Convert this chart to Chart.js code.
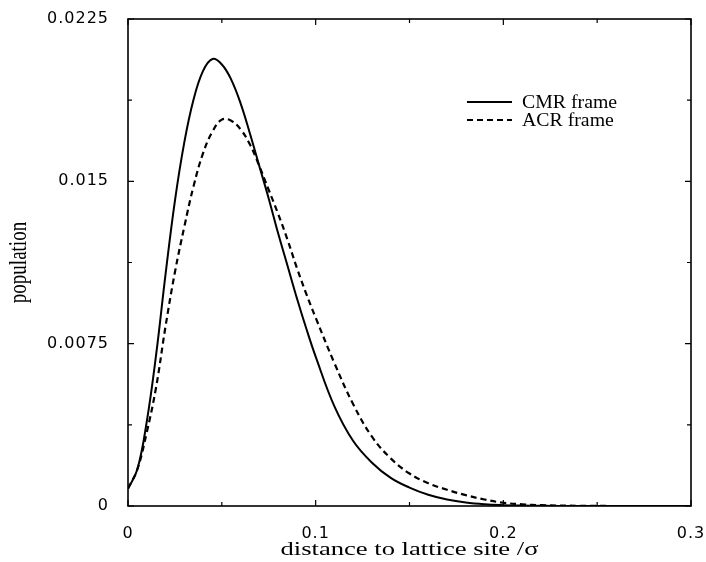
<!DOCTYPE html>
<html>
<head>
<meta charset="utf-8">
<script src="https://cdn.jsdelivr.net/npm/chart.js@4.4.0/dist/chart.umd.min.js"></script>
<style>
  html, body { margin: 0; padding: 0; background: #fff; }
</style>
</head>
<body>
<canvas id="populationChart" width="706" height="562"></canvas>
<script>
// distance to lattice site (in units of sigma)
const distances = [0, 0.005, 0.01, 0.015, 0.02, 0.025, 0.03, 0.035, 0.04, 0.045, 0.05, 0.055, 0.06,
  0.065, 0.07, 0.075, 0.08, 0.085, 0.09, 0.095, 0.1, 0.11, 0.12, 0.13, 0.14, 0.15, 0.16, 0.17,
  0.18, 0.19, 0.2, 0.21, 0.22, 0.24, 0.26, 0.28, 0.3];

// population
const cmrPopulation = [0.0008, 0.0017, 0.0039, 0.0070, 0.0107, 0.0141, 0.0168, 0.0188, 0.0201, 0.02065,
  0.0204, 0.0197, 0.0186, 0.0172, 0.0157, 0.0142, 0.0126, 0.0111, 0.0096, 0.0082, 0.0069, 0.0046,
  0.0030, 0.0020, 0.0013, 0.00085, 0.00052, 0.0003, 0.00016, 0.00008, 0.00004, 0.00002, 0.00001,
  0, 0, 0, 0];
const acrPopulation = [0.0008, 0.0017, 0.0034, 0.0055, 0.0083, 0.0108, 0.0129, 0.0148, 0.0163, 0.0173,
  0.01785, 0.0178, 0.0174, 0.0167, 0.0157, 0.0146, 0.0135, 0.0123, 0.0110, 0.0098, 0.0087, 0.0066,
  0.0047, 0.0032, 0.0022, 0.0015, 0.00105, 0.00075, 0.0005, 0.0003, 0.00015, 0.00008, 0.00004,
  0.00001, 0, 0, 0];

const seriesNames = ['CMR frame', 'ACR frame'];

// axis ticks (labels left empty on minor ticks)
const xTickValues = [0, 0.05, 0.1, 0.15, 0.2, 0.25, 0.3];
const xTickLabels = ['0', '', '0.1', '', '0.2', '', '0.3'];
const yTickValues = [0, 0.00375, 0.0075, 0.01125, 0.015, 0.01875, 0.0225];
const yTickLabels = ['0', '', '0.0075', '', '0.015', '', '0.0225'];

const xTitle = 'distance to lattice site /\u03c3';
const yTitle = 'population';

// draw text stretched horizontally like the scanned figure
const drawStretched = function (ctx, text, x, y, sx) {
  ctx.save();
  ctx.translate(x, y);
  ctx.scale(sx, 1);
  ctx.fillText(text, 0, 0);
  ctx.restore();
};

// frame, inward ticks, axis titles and legend
const framePlugin = {
  id: 'frame',
  beforeUpdate(chart) {
    chart.ctx.letterSpacing = '1px';
  },
  beforeDraw(chart) {
    chart.ctx.letterSpacing = '1px';
  },
  afterDraw(chart) {
    const { ctx, chartArea: a, scales: { x, y } } = chart;
    ctx.save();
    ctx.letterSpacing = '0px';
    ctx.strokeStyle = '#000';
    ctx.lineWidth = 1.6;
    ctx.strokeRect(a.left, a.top, a.right - a.left, a.bottom - a.top);

    ctx.lineWidth = 1.2;
    ctx.beginPath();
    x.ticks.forEach((t, i) => {
      const px = x.getPixelForValue(t.value);
      const len = xTickLabels[i] ? 6 : 4;
      ctx.moveTo(px, a.bottom);
      ctx.lineTo(px, a.bottom - len);
      ctx.moveTo(px, a.top);
      ctx.lineTo(px, a.top + len);
    });
    y.ticks.forEach((t, i) => {
      const py = y.getPixelForValue(t.value);
      const len = yTickLabels[i] ? 6 : 4;
      ctx.moveTo(a.left, py);
      ctx.lineTo(a.left + len, py);
      ctx.moveTo(a.right, py);
      ctx.lineTo(a.right - len, py);
    });
    ctx.stroke();

    // axis titles
    ctx.fillStyle = '#000';
    ctx.textBaseline = 'middle';
    ctx.textAlign = 'center';
    ctx.font = '19px "Liberation Serif", "Times New Roman", serif';
    drawStretched(ctx, xTitle, (a.left + a.right) / 2, 550, 1.4);
    ctx.save();
    ctx.translate(20, (a.top + a.bottom) / 2);
    ctx.rotate(-Math.PI / 2);
    ctx.scale(1, 1.3);
    ctx.fillText(yTitle, 0, 0);
    ctx.restore();

    // legend
    ctx.textAlign = 'left';
    ctx.font = '18px "Liberation Serif", "Times New Roman", serif';
    chart.data.datasets.forEach((ds, i) => {
      const ly = a.top + 83 + i * 18;
      ctx.save();
      ctx.strokeStyle = ds.borderColor;
      ctx.lineWidth = ds.borderWidth;
      ctx.setLineDash(ds.borderDash || []);
      ctx.beginPath();
      ctx.moveTo(a.left + 339, ly);
      ctx.lineTo(a.left + 384, ly);
      ctx.stroke();
      ctx.restore();
      drawStretched(ctx, ds.label, a.left + 394, ly + 1, 1.1);
    });
    ctx.restore();
  },
};

const tickFont = { family: '"DejaVu Sans", sans-serif', size: 16 };

new Chart(document.getElementById('populationChart'), {
  type: 'line',
  data: {
    datasets: [
      {
        label: seriesNames[0],
        data: distances.map((d, i) => ({ x: d, y: cmrPopulation[i] })),
        borderColor: '#000',
        borderWidth: 2,
        pointRadius: 0,
        tension: 0.4,
        fill: false,
      },
      {
        label: seriesNames[1],
        data: distances.map((d, i) => ({ x: d, y: acrPopulation[i] })),
        borderColor: '#000',
        borderWidth: 2.2,
        borderDash: [6, 4],
        pointRadius: 0,
        tension: 0.4,
        fill: false,
      },
    ],
  },
  options: {
    responsive: false,
    animation: false,
    devicePixelRatio: 1,
    layout: { padding: { top: 19, right: 15, left: 0, bottom: 0 } },
    plugins: {
      legend: { display: false },
      tooltip: { enabled: false },
    },
    scales: {
      x: {
        type: 'linear',
        min: 0,
        max: 0.3,
        grid: { display: false },
        border: { display: false },
        afterBuildTicks: (s) => { s.ticks = xTickValues.map((v) => ({ value: v })); },
        afterFit: (s) => {
          s.height = 56;
          s.paddingLeft = 0;
          s.paddingRight = 0;
        },
        ticks: {
          autoSkip: false,
          maxRotation: 0,
          padding: 10,
          color: '#000',
          font: tickFont,
          callback: (v, i) => xTickLabels[i],
        },
      },
      y: {
        type: 'linear',
        min: 0,
        max: 0.0225,
        grid: { display: false },
        border: { display: false },
        afterBuildTicks: (s) => { s.ticks = yTickValues.map((v) => ({ value: v })); },
        afterFit: (s) => {
          s.width = 128;
          s.paddingTop = 0;
          s.paddingBottom = 0;
        },
        ticks: {
          autoSkip: false,
          padding: 11,
          color: '#000',
          font: tickFont,
          callback: (v, i) => yTickLabels[i],
        },
      },
    },
  },
  plugins: [framePlugin],
});
</script>
</body>
</html>
